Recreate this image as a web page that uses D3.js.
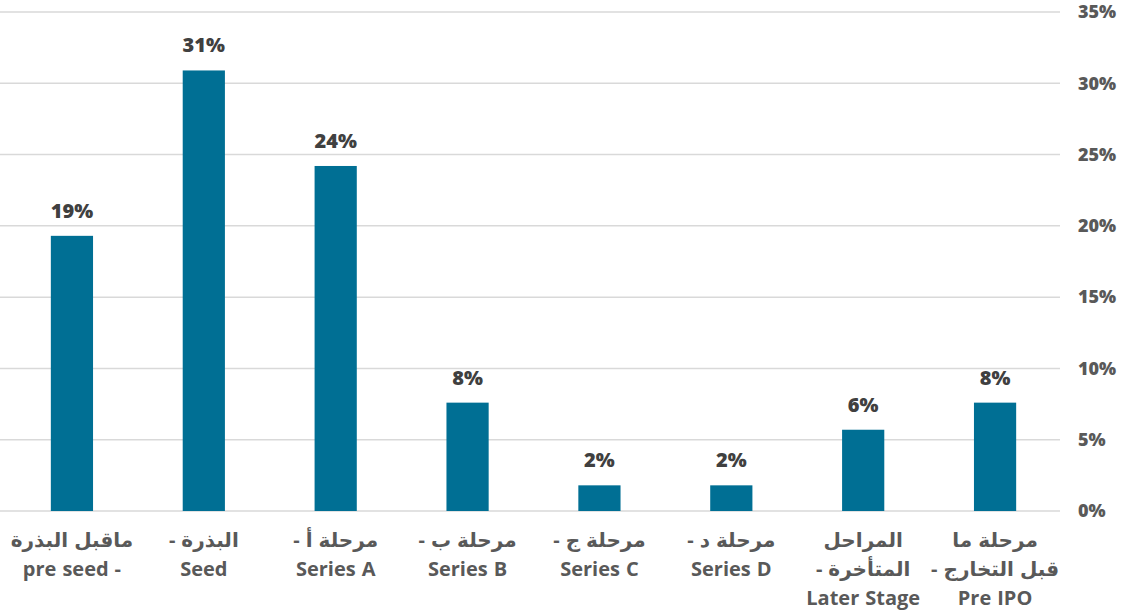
<!DOCTYPE html>
<html>
<head>
<meta charset="utf-8">
<script src="https://cdn.jsdelivr.net/npm/d3@7"></script>
<style>
  body { margin: 0; background: #fff; }
  text { font-family: 'Open Sans', 'DejaVu Sans', sans-serif; font-weight: 700; }
</style>
</head>
<body>
<div id="chart-area"></div>
<script>
const width = 1131;
const height = 614;

// data
const categories = ['pre seed', 'Seed', 'Series A', 'Series B', 'Series C', 'Series D', 'Later Stage', 'Pre IPO'];
const labelLines = [
    ['ماقبل البذرة', 'pre seed -'],
    ['البذرة -', 'Seed'],
    ['مرحلة أ -', 'Series A'],
    ['مرحلة ب -', 'Series B'],
    ['مرحلة ج -', 'Series C'],
    ['مرحلة د -', 'Series D'],
    ['المراحل', 'المتأخرة -', 'Later Stage'],
    ['مرحلة ما', 'قبل التخارج -', 'Pre IPO']
];
const values = [0.193, 0.309, 0.242, 0.076, 0.018, 0.018, 0.057, 0.076];
const valueLabels = ['19%', '31%', '24%', '8%', '2%', '2%', '6%', '8%'];
const yTicks = [0, 0.05, 0.10, 0.15, 0.20, 0.25, 0.30, 0.35];

let svg = d3.select('#chart-area').append('svg').attr('width', width).attr('height', height);

let x = d3.scaleBand()
    .domain(categories)
    .range([6, 1061])
    .paddingInner(0.68)
    .paddingOuter(0.34);

let y = d3.scaleLinear()
    .domain([0, 0.35])
    .range([511, 12]);

// grid lines
svg.append('g').selectAll('line').data(yTicks).enter().append('line')
    .attr('x1', 0).attr('x2', 1060)
    .attr('y1', (d) => y(d)).attr('y2', (d) => y(d))
    .attr('stroke', '#d9d9d9').attr('stroke-width', 1.5);

// right axis labels
let yAxis = d3.axisRight(y).tickValues(yTicks).tickFormat(d3.format('.0%')).tickSize(0).tickPadding(0);
let ax = svg.append('g').attr('transform', 'translate(1078,0)').call(yAxis);
ax.select('.domain').remove();
ax.selectAll('text')
    .attr('fill', '#595959')
    .style('font-family', "'Open Sans', sans-serif")
    .style('font-size', '18px')
    .style('font-weight', 800);

// bars
svg.append('g').selectAll('rect').data(values).enter().append('rect')
    .attr('x', (d, i) => x(categories[i]))
    .attr('y', (d) => y(d))
    .attr('width', x.bandwidth())
    .attr('height', (d) => y(0) - y(d))
    .attr('fill', '#006f94');

// value labels
svg.append('g').selectAll('text').data(values).enter().append('text')
    .attr('x', (d, i) => x(categories[i]) + x.bandwidth() / 2)
    .attr('y', (d) => y(d) - 18)
    .attr('text-anchor', 'middle')
    .attr('fill', '#404040')
    .style('font-size', '20px')
    .style('font-weight', 800)
    .text((d, i) => valueLabels[i]);

// category labels: each word placed on its own; arabic lines flipped to match the picture
let catG = svg.append('g');
const spaceW = 6;
const arabic = /[\u0600-\u06FF]/;
labelLines.forEach((lines, i) => {
    let cx = x(categories[i]) + x.bandwidth() / 2;
    lines.forEach((line, j) => {
        let words = line.split(' ');
        if (arabic.test(line)) words.reverse();
        let nodes = words.map((w) => catG.append('text')
            .attr('y', 547 + j * 29)
            .attr('fill', '#595959')
            .style('font-size', '20px')
            .text(w));
        let widths = nodes.map((n) => n.node().getComputedTextLength());
        let total = d3.sum(widths) + spaceW * (words.length - 1);
        let pos = cx - total / 2;
        nodes.forEach((n, k) => {
            n.attr('x', pos);
            pos += widths[k] + spaceW;
        });
    });
});
</script>
</body>
</html>
